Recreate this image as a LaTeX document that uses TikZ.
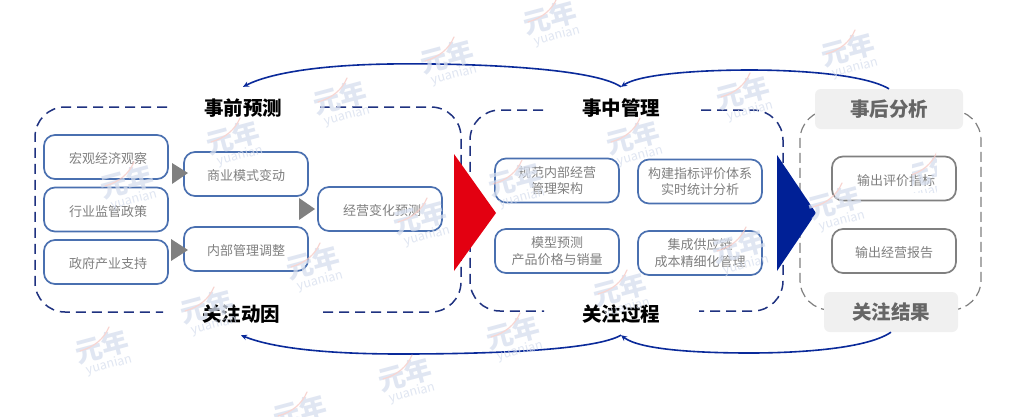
\documentclass[tikz,border=0pt]{standalone}
\usepackage{fontspec}
\setmainfont{Noto Sans CJK SC}
\usetikzlibrary{arrows.meta}
\definecolor{boxblue}{HTML}{4A70B0}
\definecolor{navyd}{HTML}{1F3280}
\definecolor{curveblue}{HTML}{0A2A9A}
\definecolor{txtgray}{HTML}{7F7F7F}
\definecolor{wmblue}{HTML}{D6DEEE}
\definecolor{wmred}{HTML}{F6C9C4}
\tikzset{
  x=1pt,y=-1pt,
  inbox/.style={draw=boxblue,line width=1.7pt,rounded corners=11pt,text=txtgray,font=\fontsize{13}{16.5}\selectfont,align=center,inner sep=0pt,execute at begin node={\rule{0pt}{15pt}}},
  outbox/.style={inbox,draw=black!50},
  hdr/.style={font=\fontsize{19.5}{22}\selectfont\bfseries,text=black,minimum height=42pt,inner sep=0pt,minimum width=80pt},
  hdrgray/.style={hdr,text=black!60,fill=black!6,rounded corners=6pt},
  frameblue/.style={draw=navyd,line width=1.5pt,dash pattern=on 10pt off 6pt,rounded corners=30pt},
  framegray/.style={draw=black!50,line width=1.2pt,dash pattern=on 10pt off 5pt,rounded corners=30pt},
  tri/.style={fill=black!50,draw=none},
  curve/.style={draw=curveblue,line width=1.6pt},
  curvearrow/.style={curve,-{Stealth[length=6pt,width=5.5pt]}},
  wmcn/.style={text=wmblue,font=\fontsize{27}{27}\selectfont\bfseries,rotate=15,inner sep=0pt},
  wmlat/.style={text=wmblue,font=\fontsize{12.5}{13}\selectfont,rotate=15,inner sep=0pt},
}
\newcommand{\wmark}[3]{%
  \node[wmcn] (wc#3) at (#1,#2) {元年};
  \node[wmlat] (wl#3) at ([shift={(7,18)}]wc#3.center) {yuanian};
  \draw[wmred,line width=1.2pt,line cap=round] ([shift={(-22,4)}]wc#3.center) .. controls ([shift={(-8,0)}]wc#3.center) and ([shift={(2,-8)}]wc#3.center) .. ([shift={(7,-20)}]wc#3.center);
}
\newcommand{\nudge}{\hspace*{4pt}}
\begin{document}
\begin{tikzpicture}
\useasboundingbox[fill=white] (0,0) rectangle (1029,416);

% headers
\node[hdr] (tPre) at (243,108) {事前预测};
\node[hdr] (bPre) at (241,314) {关注动因};
\node[hdr] (tMid) at (621,108) {事中管理};
\node[hdr] (bMid) at (621,314) {关注过程};

% frames
\coordinate (fa1) at (167,107); \coordinate (fa2) at (320,107);
\coordinate (fa3) at (163,312); \coordinate (fa4) at (322,312);
\draw[frameblue] (fa1) -- (35,107) -- (35,312) -- (fa3);
\draw[frameblue] (fa2) -- (461,107) -- (461,312) -- (fa4);
\coordinate (fb1) at (543,110); \coordinate (fb2) at (701,110);
\coordinate (fb3) at (544,311); \coordinate (fb4) at (699,311);
\draw[frameblue] (fb1) -- (470,110) -- (470,311) -- (fb3);
\draw[frameblue] (fb2) -- (783,110) -- (783,311) -- (fb4);
\coordinate (fc1) at (830,110); \coordinate (fc2) at (950,110);
\coordinate (fc3) at (830,310); \coordinate (fc4) at (950,310);
\draw[framegray] (fc1) -- (800,110) -- (800,310) -- (fc3);
\draw[framegray] (fc2) -- (981,110) -- (981,310) -- (fc4);

\node[hdrgray,minimum width=148pt,minimum height=40pt] (tPost) at (889,109) {\raisebox{1pt}{事后分析}};
\node[hdrgray,minimum width=134pt,minimum height=40pt] (bPost) at (891,312) {关注结果};

% inner boxes
\tikzset{pw/.style={minimum width=124pt,minimum height=44pt}}
\node[inbox,pw] (a1) at (106,157) {\nudge 宏观经济观察};
\node[inbox,pw] (a2) at (106,209.5) {\nudge 行业监管政策};
\node[inbox,pw] (a3) at (106,262) {\nudge 政府产业支持};
\node[inbox,pw] (b1) at (246,174) {商业模式变动};
\node[inbox,pw] (b2) at (246,249) {内部管理调整};
\node[inbox,pw] (c1) at (380,209) {\nudge 经营变化预测};
\node[inbox,pw] (m1) at (557,180.5) {规范内部经营\\管理架构};
\node[inbox,pw] (m2) at (700,181.5) {构建指标评价体系\\实时统计分析};
\node[inbox,pw] (m3) at (557,251) {模型预测\\产品价格与销量};
\node[inbox,pw] (m4) at (700,253) {集成供应链\\成本精细化管理};
\node[outbox,pw] (p1) at (894,178.5) {\nudge 输出评价指标};
\node[outbox,pw] (p2) at (894,251) {输出经营报告};

% triangles
\fill[tri] (172,163) -- (172,184) -- (188,173) -- cycle;
\fill[tri] (171,239) -- (171,261) -- (188,250) -- cycle;
\fill[tri] (299,198) -- (299,220) -- (315,209) -- cycle;
\fill[fill={rgb,255:red,227;green,0;blue,17}] (454,154) -- (496,213) -- (454,271) -- cycle;
\fill[fill={rgb,255:red,0;green,32;blue,150}] (777,155) -- (816,213) -- (777,271) -- cycle;

% curved connectors
\draw[curvearrow] (tMid.north) .. controls (590,66) and (450,63) .. (390,64) .. controls (320,65) and (270,73) .. (tPre.north);
\draw[curvearrow] (tPost.north) .. controls (860,72) and (780,70) .. (750,70) .. controls (700,70) and (640,74) .. (tMid.north);
\draw[curvearrow] (bMid.south) .. controls (590,353) and (450,354) .. (400,354) .. controls (320,354) and (270,347) .. (bPre.south);
\draw[curvearrow] (bPost.south) .. controls (865,350) and (790,353) .. (750,353) .. controls (700,353) and (640,350) .. (bMid.south);

% watermark
\begin{scope}[opacity=.75,transparency group]
\wmark{550}{18}{1}\wmark{447}{57}{2}\wmark{340}{98}{3}\wmark{233}{138}{4}
\wmark{127}{182}{5}\wmark{420}{218}{6}\wmark{313}{263}{7}\wmark{207}{307}{8}
\wmark{102}{347}{9}\wmark{743}{93}{10}\wmark{633}{138}{11}\wmark{515}{180}{12}
\wmark{835}{203}{13}\wmark{620}{290}{14}\wmark{513}{333}{15}\wmark{739}{247}{16}
\wmark{848}{50}{17}\wmark{405}{375}{18}\wmark{300}{412}{19}
\begin{scope}
\clip (912,150) rectangle (936,192);
\wmark{930}{172}{20}
\end{scope}
\end{scope}
\end{tikzpicture}
\end{document}
